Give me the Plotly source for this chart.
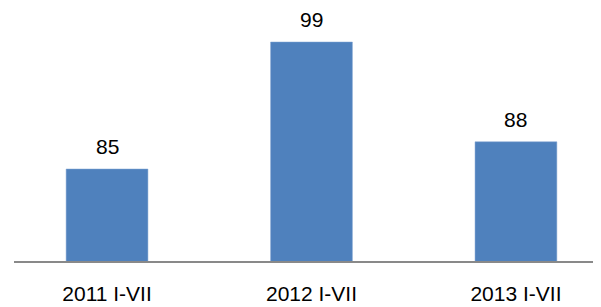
import plotly.graph_objects as go

categories = ["2011 I-VII", "2012 I-VII", "2013 I-VII"]
values = [85, 99, 88]

fig = go.Figure(go.Bar(
    x=categories, y=values,
    marker=dict(color="#4F81BD", line=dict(color="#7FA3D1", width=0.5)),
    width=0.4,
    cliponaxis=False,
))

for c, v in zip(categories, values):
    fig.add_annotation(
        x=c, y=v, text=str(v), showarrow=False,
        yanchor="bottom", yshift=9,
        font=dict(family="Liberation Sans, Arial", size=21, color="#000000"),
    )

# page body has an 8px default margin, so the figure is sized to fit the window
fig.update_layout(
    width=593, height=299,
    margin=dict(l=6, r=0, t=0, b=46, pad=0),
    paper_bgcolor="white", plot_bgcolor="white",
    showlegend=False,
    font=dict(family="Liberation Sans, Arial", size=21, color="#000000"),
    xaxis=dict(
        range=[-0.455, 2.416],
        showline=True, linecolor="#898989", linewidth=1.5,
        ticks="", showgrid=False,
        ticklabelstandoff=13,
        tickfont=dict(size=21),
        automargin=False,
    ),
    yaxis=dict(
        range=[74.86, 102.75],
        visible=False, showgrid=False, zeroline=False,
        automargin=False,
    ),
)

fig.write_html("out.html")
